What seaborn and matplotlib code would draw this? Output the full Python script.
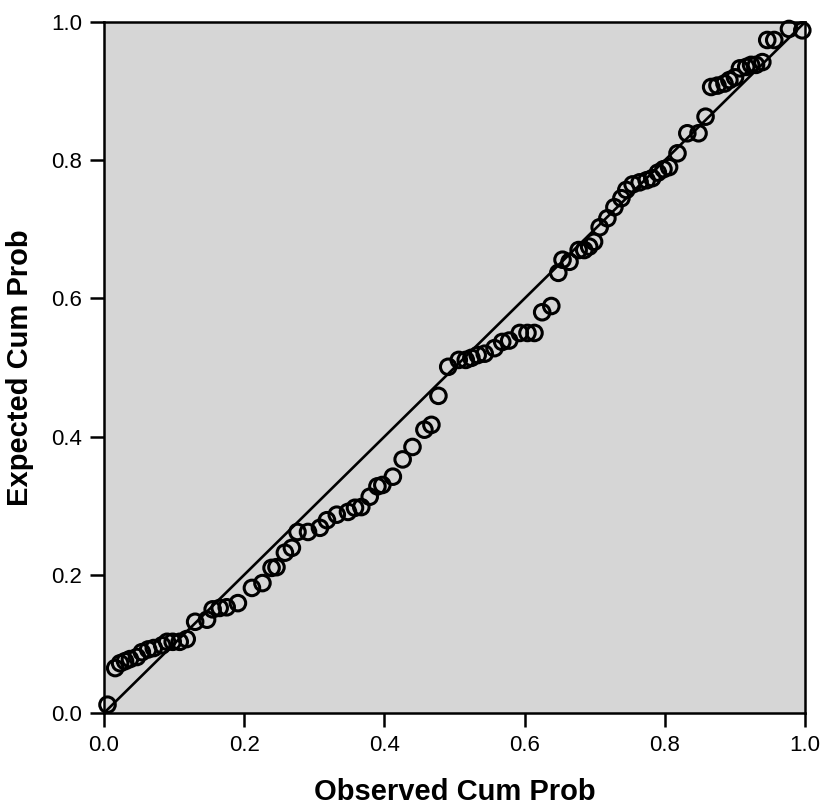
import matplotlib
matplotlib.use("Agg")
import matplotlib.pyplot as plt
import seaborn as sns
import pandas as pd

# Observed vs expected cumulative probabilities (P-P plot)
observed = [
    0.005, 0.016, 0.023, 0.030, 0.037, 0.047, 0.054, 0.063, 0.071, 0.083,
    0.090, 0.098, 0.108, 0.118, 0.130, 0.147, 0.155, 0.165, 0.175, 0.191,
    0.211, 0.226, 0.239, 0.246, 0.258, 0.268, 0.276, 0.291, 0.308, 0.318,
    0.332, 0.348, 0.358, 0.367, 0.379, 0.390, 0.397, 0.412, 0.426, 0.440,
    0.457, 0.467, 0.477, 0.491, 0.506, 0.516, 0.524, 0.533, 0.543, 0.557,
    0.568, 0.578, 0.593, 0.604, 0.614, 0.625, 0.638, 0.648, 0.654, 0.664,
    0.677, 0.685, 0.692, 0.699, 0.707, 0.718, 0.728, 0.738, 0.745, 0.754,
    0.764, 0.774, 0.782, 0.790, 0.798, 0.806, 0.818, 0.832, 0.848, 0.858,
    0.866, 0.875, 0.885, 0.892, 0.900, 0.907, 0.916, 0.923, 0.930, 0.939,
    0.946, 0.956, 0.977, 0.996,
]
expected = [
    0.012, 0.065, 0.072, 0.075, 0.078, 0.081, 0.088, 0.092, 0.094, 0.098,
    0.103, 0.103, 0.103, 0.107, 0.132, 0.135, 0.150, 0.152, 0.153, 0.159,
    0.181, 0.188, 0.210, 0.211, 0.232, 0.239, 0.262, 0.262, 0.268, 0.279,
    0.287, 0.291, 0.297, 0.298, 0.313, 0.328, 0.330, 0.342, 0.367, 0.385,
    0.410, 0.417, 0.459, 0.501, 0.511, 0.511, 0.514, 0.518, 0.520, 0.528,
    0.537, 0.539, 0.550, 0.550, 0.550, 0.580, 0.589, 0.637, 0.656, 0.653,
    0.670, 0.670, 0.675, 0.682, 0.703, 0.716, 0.732, 0.745, 0.757, 0.765,
    0.768, 0.771, 0.774, 0.782, 0.787, 0.790, 0.810, 0.839, 0.839, 0.863,
    0.906, 0.908, 0.911, 0.916, 0.920, 0.933, 0.935, 0.938, 0.938, 0.942,
    0.974, 0.974, 0.990, 0.988,
]
reference_x = [0.0, 1.0]
reference_y = [0.0, 1.0]
tick_values = [0.0, 0.2, 0.4, 0.6, 0.8, 1.0]
tick_labels = ["0.0", "0.2", "0.4", "0.6", "0.8", "1.0"]

sns.set_theme(style="white")
plt.rcParams["font.family"] = ["Liberation Sans", "DejaVu Sans"]

df = pd.DataFrame({"Observed": observed, "Expected": expected})
line_df = pd.DataFrame({"x": reference_x, "y": reference_y})

fig = plt.figure(figsize=(8.30, 8.07), dpi=100)
ax = fig.add_axes([0.1253, 0.1165, 0.8447, 0.8562])
ax.set_facecolor("#d6d6d6")

sns.lineplot(data=line_df, x="x", y="y", ax=ax, color="black",
             linewidth=1.9, zorder=2)
sns.scatterplot(data=df, x="Observed", y="Expected", ax=ax, s=125,
                facecolors="none", edgecolor="black", linewidth=2.2,
                zorder=3, clip_on=False)

ax.set_xlim(0, 1)
ax.set_ylim(0, 1)
ax.set_xticks(tick_values)
ax.set_xticklabels(tick_labels)
ax.set_yticks(tick_values)
ax.set_yticklabels(tick_labels)
ax.tick_params(axis="both", direction="out", length=10, width=1.8,
               color="black", labelsize=16, labelcolor="black", pad=6,
               bottom=True, left=True)
for side in ["left", "bottom", "top", "right"]:
    ax.spines[side].set_visible(True)
    ax.spines[side].set_color("black")
    ax.spines[side].set_linewidth(1.8)

ax.set_xlabel("Observed Cum Prob", fontsize=21, fontweight="bold",
              labelpad=16, color="black")
ax.set_ylabel("Expected Cum Prob", fontsize=21, fontweight="bold",
              labelpad=12, color="black")

fig.savefig("out.png", dpi=100, facecolor="white")
